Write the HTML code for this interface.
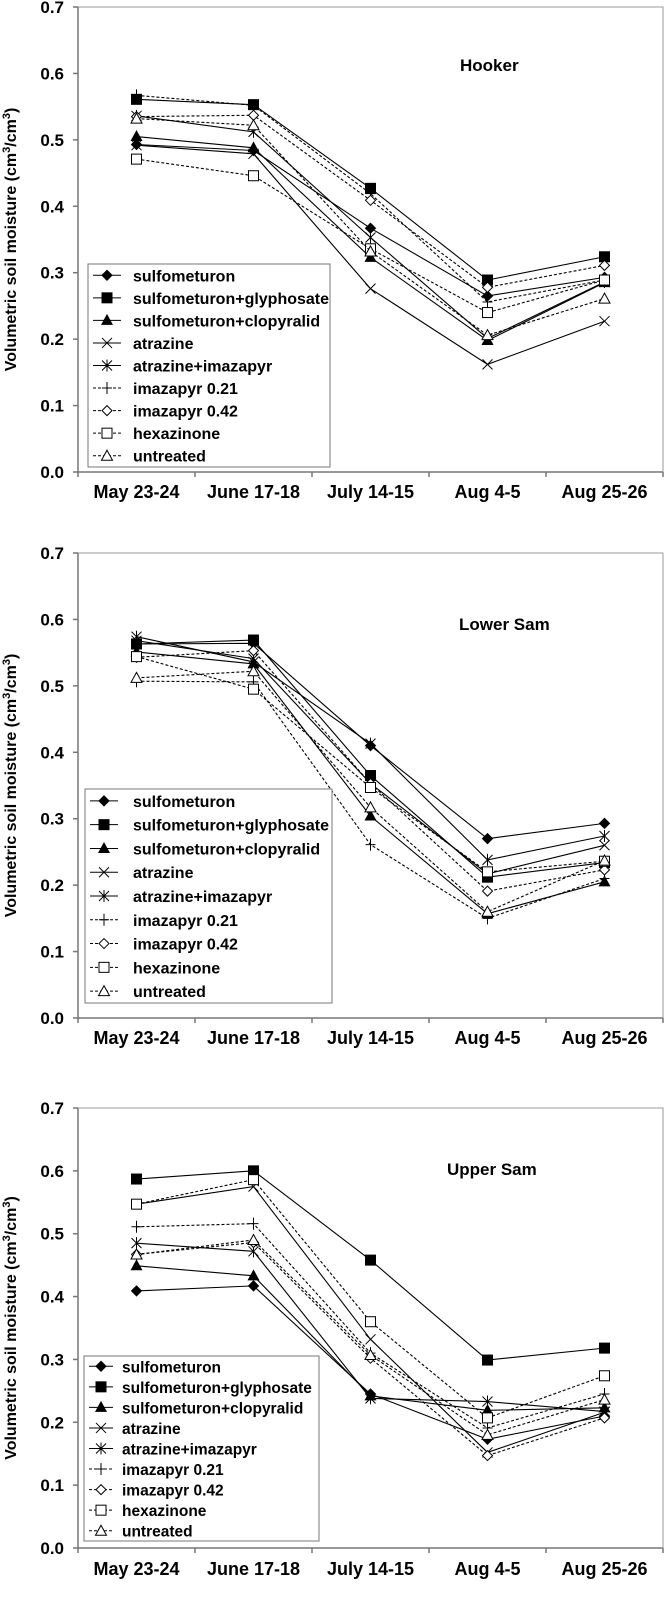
<!DOCTYPE html>
<html><head><meta charset="utf-8"><style>
html,body{margin:0;padding:0;background:#fff;}
svg{display:block;font-family:"Liberation Sans",sans-serif;}
</style></head><body>
<svg id="chart" width="667" height="1612" viewBox="0 0 667 1612" xmlns="http://www.w3.org/2000/svg"></svg>
<script>
const categories = ["May 23-24","June 17-18","July 14-15","Aug 4-5","Aug 25-26"];
const seriesNames = ["sulfometuron","sulfometuron+glyphosate","sulfometuron+clopyralid","atrazine","atrazine+imazapyr","imazapyr 0.21","imazapyr 0.42","hexazinone","untreated"];
const yTicks = [0,0.1,0.2,0.3,0.4,0.5,0.6,0.7];
const yTickLabels = ["0.0","0.1","0.2","0.3","0.4","0.5","0.6","0.7"];
const hookerSulfometuron = [0.493,0.484,0.367,0.265,0.293];
const hookerGlyphosate = [0.561,0.553,0.427,0.289,0.324];
const hookerClopyralid = [0.505,0.488,0.323,0.198,0.285];
const hookerAtrazine = [0.492,0.479,0.276,0.162,0.227];
const hookerAtrImaz = [0.536,0.512,0.353,0.201,0.286];
const hookerImaz021 = [0.567,0.552,0.419,0.256,0.289];
const hookerImaz042 = [0.535,0.537,0.409,0.278,0.311];
const hookerHexazinone = [0.471,0.446,0.336,0.240,0.289];
const hookerUntreated = [0.532,0.522,0.332,0.206,0.261];
const lowerSulfometuron = [0.563,0.564,0.410,0.270,0.293];
const lowerGlyphosate = [0.563,0.569,0.365,0.212,0.234];
const lowerClopyralid = [0.551,0.533,0.304,0.157,0.205];
const lowerAtrazine = [0.568,0.541,0.353,0.217,0.260];
const lowerAtrImaz = [0.574,0.536,0.413,0.238,0.274];
const lowerImaz021 = [0.507,0.506,0.261,0.150,0.210];
const lowerImaz042 = [0.543,0.553,0.353,0.191,0.223];
const lowerHexazinone = [0.544,0.495,0.347,0.220,0.236];
const lowerUntreated = [0.512,0.522,0.317,0.160,0.237];
const upperSulfometuron = [0.409,0.417,0.245,0.173,0.210];
const upperGlyphosate = [0.587,0.600,0.458,0.299,0.318];
const upperClopyralid = [0.449,0.433,0.242,0.219,0.223];
const upperAtrazine = [0.547,0.575,0.332,0.152,0.216];
const upperAtrImaz = [0.485,0.472,0.238,0.233,0.217];
const upperImaz021 = [0.511,0.516,0.310,0.191,0.245];
const upperImaz042 = [0.467,0.486,0.302,0.147,0.207];
const upperHexazinone = [0.547,0.586,0.360,0.207,0.274];
const upperUntreated = [0.467,0.490,0.307,0.180,0.236];

const NS="http://www.w3.org/2000/svg";
const svg=document.getElementById('chart');
function mk(tag,attrs,parent){const e=document.createElementNS(NS,tag);for(const k in attrs)e.setAttribute(k,attrs[k]);(parent||svg).appendChild(e);return e;}

const markers=["diamondF","squareF","triangleF","x","star","plus","diamondO","squareO","triangleO"];
const dashed=[false,false,false,false,false,true,true,true,true];

function marker(g,type,x,y){
  const s=5;
  if(type==="diamondF"||type==="diamondO"){mk('polygon',{points:`${x},${y-s} ${x+s},${y} ${x},${y+s} ${x-s},${y}`,fill:type==="diamondF"?"#000":"#fff",stroke:"#000","stroke-width":1},g);}
  else if(type==="squareF"){mk('rect',{x:x-5.5,y:y-5.5,width:11,height:11,fill:"#000"},g);}
  else if(type==="squareO"){mk('rect',{x:x-5,y:y-5,width:10,height:10,fill:"#fff",stroke:"#000","stroke-width":1},g);}
  else if(type==="triangleF"){mk('polygon',{points:`${x},${y-6.5} ${x+6},${y+4.5} ${x-6},${y+4.5}`,fill:"#000"},g);}
  else if(type==="triangleO"){mk('polygon',{points:`${x},${y-5.5} ${x+5.5},${y+4.5} ${x-5.5},${y+4.5}`,fill:"#fff",stroke:"#000","stroke-width":1},g);}
  else if(type==="x"){mk('path',{d:`M${x-5},${y-5}L${x+5},${y+5}M${x-5},${y+5}L${x+5},${y-5}`,stroke:"#000","stroke-width":1},g);}
  else if(type==="star"){mk('path',{d:`M${x-5},${y-5}L${x+5},${y+5}M${x-5},${y+5}L${x+5},${y-5}M${x},${y-6}L${x},${y+6}`,stroke:"#000","stroke-width":1},g);}
  else if(type==="plus"){mk('path',{d:`M${x-5},${y}L${x+5},${y}M${x},${y-6}L${x},${y+6}`,stroke:"#000","stroke-width":1},g);}
}

function panel(cfg){
  const g=mk('g',{});
  
  
  const L=78,R=663,T=cfg.top,B=cfg.bottom;
  const xs=i=>L+(R-L)/categories.length*(i+0.5);
  const ys=v=>B-(v/0.7)*(B-T);
  mk('rect',{x:L,y:T,width:R-L,height:B-T,fill:"none",stroke:"#999","stroke-width":1},g);
  const ax=mk('path',{d:`M${L},${T}L${L},${B}L${R},${B}`,fill:"none",stroke:"#777","stroke-width":1.5},g);
  
  
  yTicks.forEach((v,i)=>{
    mk('line',{x1:L-5,x2:L,y1:ys(v),y2:ys(v),stroke:"#777","stroke-width":1.5},g);
    const t=mk('text',{x:64,y:ys(v)+6,"text-anchor":"end","font-size":17,"font-weight":"bold"},g);
    t.textContent=yTickLabels[i];
    
    
  });
  for(let i=0;i<=categories.length;i++){
    const x=L+(R-L)/categories.length*i;
    mk('line',{x1:x,x2:x,y1:B,y2:B+5,stroke:"#777","stroke-width":1.5},g);
  }
  categories.forEach((c,i)=>{
    const t=mk('text',{x:xs(i),y:cfg.labelY,"text-anchor":"middle","font-size":18,"font-weight":"bold"},g);
    t.textContent=c;
    
    
  });
  const yt=mk('text',{transform:`translate(16,${(T+B)/2}) rotate(-90)`,"text-anchor":"middle","font-size":16,"font-weight":"bold"},g);
  yt.innerHTML='Volumetric soil moisture (cm<tspan font-size="11" dy="-6">3</tspan><tspan dy="6">/cm</tspan><tspan font-size="11" dy="-6">3</tspan><tspan dy="6">)</tspan>';
  
  
  const tt=mk('text',{x:cfg.titleX,y:cfg.titleY,"font-size":17,"font-weight":"bold"},g);
  tt.textContent=cfg.title;
  
  
  cfg.data.forEach((vals,si)=>{
    const sg=mk('g',{},g);
    
    
    const d=vals.map((v,i)=>(i?'L':'M')+xs(i)+','+ys(v)).join('');
    mk('path',{d:d,fill:"none",stroke:"#000","stroke-width":1.1,"stroke-dasharray":dashed[si]?"3,2":"none"},sg);
    vals.forEach((v,i)=>marker(sg,markers[si],xs(i),ys(v)));
  });
  const lg=mk('g',{},g);
  
  
  const lb=cfg.legend;
  mk('rect',{x:lb.x,y:lb.y,width:lb.w,height:lb.h,fill:"#fff",stroke:"#777","stroke-width":1},lg);
  const step=lb.h/9;
  seriesNames.forEach((n,i)=>{
    const eg=mk('g',{},lg);
    
    
    const cy=lb.y+step*(i+0.5);
    mk('line',{x1:lb.x+5,x2:lb.x+lb.sw,y1:cy,y2:cy,stroke:"#000","stroke-width":1,"stroke-dasharray":dashed[i]?"3,2":"none"},eg);
    marker(eg,markers[i],lb.x+5+(lb.sw-5)/2,cy);
    const t=mk('text',{x:lb.x+lb.tx,y:cy+6,"font-size":lb.fs,"font-weight":"bold"},eg);
    t.textContent=n;
  });
}

panel({name:'hooker',title:'Hooker',top:7,bottom:472,labelY:498,titleX:460,titleY:71,
  data:[hookerSulfometuron,hookerGlyphosate,hookerClopyralid,hookerAtrazine,hookerAtrImaz,hookerImaz021,hookerImaz042,hookerHexazinone,hookerUntreated],
  legend:{x:88,y:264,w:242,h:203,sw:33,tx:45,fs:16}});
panel({name:'lower-sam',title:'Lower Sam',top:553,bottom:1018,labelY:1044,titleX:459,titleY:630,
  data:[lowerSulfometuron,lowerGlyphosate,lowerClopyralid,lowerAtrazine,lowerAtrImaz,lowerImaz021,lowerImaz042,lowerHexazinone,lowerUntreated],
  legend:{x:85,y:789,w:247,h:214,sw:33,tx:48,fs:16}});
panel({name:'upper-sam',title:'Upper Sam',top:1108,bottom:1548,labelY:1575,titleX:447,titleY:1175,
  data:[upperSulfometuron,upperGlyphosate,upperClopyralid,upperAtrazine,upperAtrImaz,upperImaz021,upperImaz042,upperHexazinone,upperUntreated],
  legend:{x:84,y:1356,w:235,h:185,sw:29,tx:38,fs:15.5}});
</script>
</body></html>
